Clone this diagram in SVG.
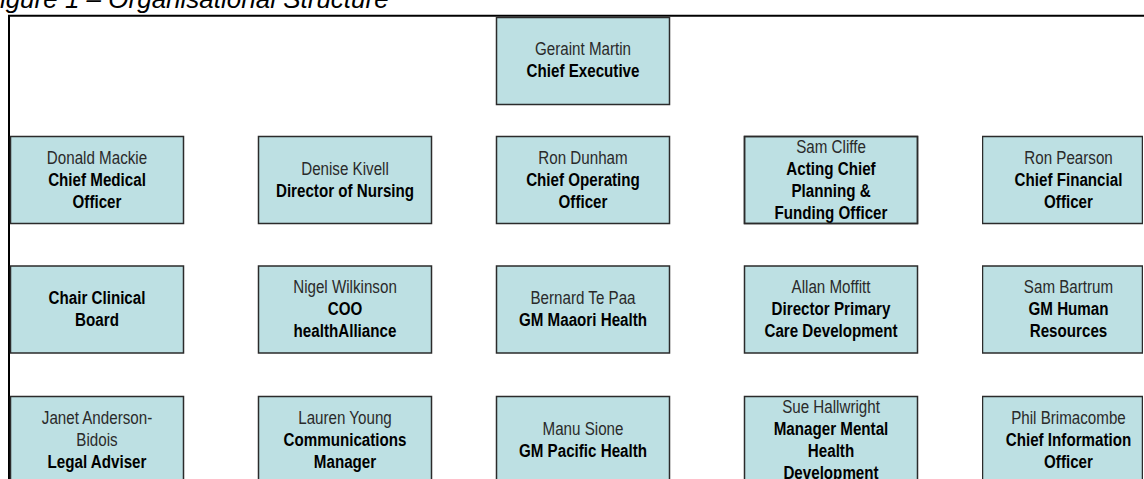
<svg xmlns="http://www.w3.org/2000/svg" width="1144" height="479" viewBox="0 0 1144 479">
<style>
.box{fill:#bde0e3;stroke:#2b2b2b;stroke-width:1.5}
.t{font-family:"Liberation Sans",Arial,sans-serif;font-size:18.5px;text-anchor:middle}
.n{fill:#2a2a2a;font-weight:normal}
.b{fill:#000;font-weight:bold}
.ln{stroke:#000;stroke-width:2;fill:none}
.title{font-family:"Liberation Sans",Arial,sans-serif;font-style:italic;font-size:26px;fill:#000}
</style>
<defs>
<clipPath id="clipCliffe"><rect x="744.5" y="136.5" width="173" height="87"/></clipPath>
<clipPath id="clipSue"><rect x="744.5" y="396.5" width="173" height="87"/></clipPath>
<clipPath id="clipCol5"><rect x="982" y="0" width="161" height="479"/></clipPath>
</defs>
<rect width="1144" height="479" fill="#fff"/>
<text class="title" x="-16" y="8">Figure 1 – Organisational Structure</text>
<g id="connectors">
<line class="ln" x1="8" y1="15.7" x2="1144" y2="15.7"/>
<line class="ln" x1="9" y1="15" x2="9" y2="479"/>
</g>
<g id="ceo">
<rect class="box" x="496.5" y="17.5" width="173" height="87"/>
<text class="t" transform="translate(583 0) scale(0.82 1)"><tspan x="0" y="55.5" class="n">Geraint Martin</tspan><tspan x="0" y="77.5" class="b">Chief Executive</tspan></text>
</g>
<g id="cmo">
<rect class="box" x="10.5" y="136.5" width="173" height="87"/>
<text class="t" transform="translate(97 0) scale(0.82 1)"><tspan x="0" y="164" class="n">Donald Mackie</tspan><tspan x="0" y="186" class="b">Chief Medical</tspan><tspan x="0" y="208" class="b">Officer</tspan></text>
</g>
<g id="don">
<rect class="box" x="258.5" y="136.5" width="173" height="87"/>
<text class="t" transform="translate(345 0) scale(0.82 1)"><tspan x="0" y="175" class="n">Denise Kivell</tspan><tspan x="0" y="197" class="b">Director of Nursing</tspan></text>
</g>
<g id="coo">
<rect class="box" x="496.5" y="136.5" width="173" height="87"/>
<text class="t" transform="translate(583 0) scale(0.82 1)"><tspan x="0" y="164" class="n">Ron Dunham</tspan><tspan x="0" y="186" class="b">Chief Operating</tspan><tspan x="0" y="208" class="b">Officer</tspan></text>
</g>
<g id="planning">
<rect class="box" x="744.5" y="136.5" width="173" height="87"/>
<g clip-path="url(#clipCliffe)">
<text class="t" transform="translate(831 0) scale(0.82 1)"><tspan x="0" y="153" class="n">Sam Cliffe</tspan><tspan x="0" y="175" class="b">Acting Chief</tspan><tspan x="0" y="197" class="b">Planning &amp;</tspan><tspan x="0" y="219" class="b">Funding Officer</tspan></text>
</g>
<rect x="744.5" y="136.5" width="173" height="87" fill="none" stroke="#2b2b2b" stroke-width="1.5"/>
</g>
<g id="cfo" clip-path="url(#clipCol5)">
<rect class="box" x="982.5" y="136.5" width="160" height="87"/>
<text class="t" transform="translate(1068.5 0) scale(0.82 1)"><tspan x="0" y="164" class="n">Ron Pearson</tspan><tspan x="0" y="186" class="b">Chief Financial</tspan><tspan x="0" y="208" class="b">Officer</tspan></text>
</g>
<g id="clinical-board">
<rect class="box" x="10.5" y="266" width="173" height="87"/>
<text class="t" transform="translate(97 0) scale(0.82 1)"><tspan x="0" y="304.5" class="b">Chair Clinical</tspan><tspan x="0" y="326.5" class="b">Board</tspan></text>
</g>
<g id="healthalliance">
<rect class="box" x="258.5" y="266" width="173" height="87"/>
<text class="t" transform="translate(345 0) scale(0.82 1)"><tspan x="0" y="293.5" class="n">Nigel Wilkinson</tspan><tspan x="0" y="315.5" class="b">COO</tspan><tspan x="0" y="337.5" class="b">healthAlliance</tspan></text>
</g>
<g id="maaori">
<rect class="box" x="496.5" y="266" width="173" height="87"/>
<text class="t" transform="translate(583 0) scale(0.82 1)"><tspan x="0" y="304.5" class="n">Bernard Te Paa</tspan><tspan x="0" y="326.5" class="b">GM Maaori Health</tspan></text>
</g>
<g id="primary-care">
<rect class="box" x="744.5" y="266" width="173" height="87"/>
<text class="t" transform="translate(831 0) scale(0.82 1)"><tspan x="0" y="293.5" class="n">Allan Moffitt</tspan><tspan x="0" y="315.5" class="b">Director Primary</tspan><tspan x="0" y="337.5" class="b">Care Development</tspan></text>
</g>
<g id="hr" clip-path="url(#clipCol5)">
<rect class="box" x="982.5" y="266" width="160" height="87"/>
<text class="t" transform="translate(1068.5 0) scale(0.82 1)"><tspan x="0" y="293.5" class="n">Sam Bartrum</tspan><tspan x="0" y="315.5" class="b">GM Human</tspan><tspan x="0" y="337.5" class="b">Resources</tspan></text>
</g>
<g id="legal">
<rect class="box" x="10.5" y="396.5" width="173" height="87"/>
<text class="t" transform="translate(97 0) scale(0.82 1)"><tspan x="0" y="424" class="n">Janet Anderson-</tspan><tspan x="0" y="446" class="n">Bidois</tspan><tspan x="0" y="468" class="b">Legal Adviser</tspan></text>
</g>
<g id="communications">
<rect class="box" x="258.5" y="396.5" width="173" height="87"/>
<text class="t" transform="translate(345 0) scale(0.82 1)"><tspan x="0" y="424" class="n">Lauren Young</tspan><tspan x="0" y="446" class="b">Communications</tspan><tspan x="0" y="468" class="b">Manager</tspan></text>
</g>
<g id="pacific">
<rect class="box" x="496.5" y="396.5" width="173" height="87"/>
<text class="t" transform="translate(583 0) scale(0.82 1)"><tspan x="0" y="435" class="n">Manu Sione</tspan><tspan x="0" y="457" class="b">GM Pacific Health</tspan></text>
</g>
<g id="mental-health">
<rect class="box" x="744.5" y="396.5" width="173" height="87"/>
<g clip-path="url(#clipSue)">
<text class="t" transform="translate(831 0) scale(0.82 1)"><tspan x="0" y="413" class="n">Sue Hallwright</tspan><tspan x="0" y="435" class="b">Manager Mental</tspan><tspan x="0" y="457" class="b">Health</tspan><tspan x="0" y="479" class="b">Development</tspan></text>
</g>
</g>
<g id="cio" clip-path="url(#clipCol5)">
<rect class="box" x="982.5" y="396.5" width="160" height="87"/>
<text class="t" transform="translate(1068.5 0) scale(0.82 1)"><tspan x="0" y="424" class="n">Phil Brimacombe</tspan><tspan x="0" y="446" class="b">Chief Information</tspan><tspan x="0" y="468" class="b">Officer</tspan></text>
</g>
</svg>
